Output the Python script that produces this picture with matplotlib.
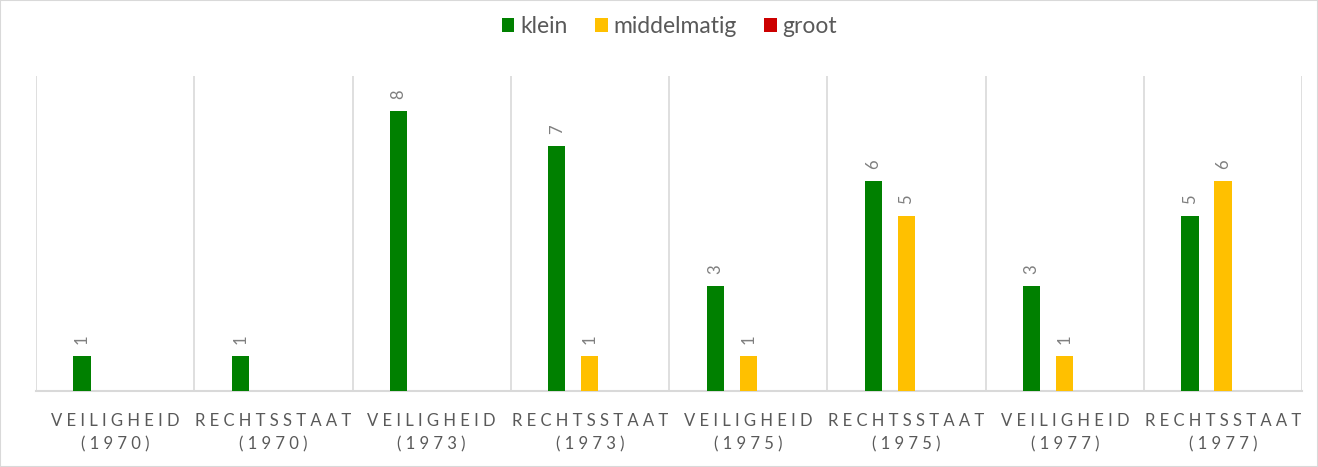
import numpy as np
import matplotlib.pyplot as plt

categories = ["VEILIGHEID\n(1970)", "RECHTSSTAAT\n(1970)", "VEILIGHEID\n(1973)", "RECHTSSTAAT\n(1973)",
              "VEILIGHEID\n(1975)", "RECHTSSTAAT\n(1975)", "VEILIGHEID\n(1977)", "RECHTSSTAAT\n(1977)"]
klein = [1, 1, 8, 7, 3, 6, 3, 5]
middelmatig = [0, 0, 0, 1, 1, 5, 1, 6]
groot = [0, 0, 0, 0, 0, 0, 0, 0]

series = [("klein", klein, "#008000"),
          ("middelmatig", middelmatig, "#FFC000"),
          ("groot", groot, "#CC0000")]

TEXT_GREY = "#595959"


def spaced(label):
    # mimic the wide letter spacing of the axis labels
    return "\n".join(" ".join(line) for line in label.split("\n"))


def main():
    plt.rcParams['font.family'] = ['Lato', 'DejaVu Sans']
    fig = plt.figure(figsize=(13.18, 4.67), dpi=100)
    ax = fig.add_axes([0.0273, 0.1627, 0.9607, 0.6746])

    x = np.arange(len(categories))
    width = 0.108
    offsets = [-0.209, 0.0, 0.209]

    handles = []
    for (name, vals, color), off in zip(series, offsets):
        bars = ax.bar(x + off, vals, width=width, color=color, label=name, zorder=3)
        handles.append(bars)
        for xi, v in zip(x + off, vals):
            if v > 0:
                ax.annotate(str(v), (xi, v), xytext=(0, 8.5), textcoords="offset points",
                            ha="center", va="bottom", rotation=90, fontsize=12,
                            color="#7f7f7f")

    ax.set_xlim(-0.5, len(categories) - 0.5)
    ax.set_ylim(0, 9)
    ax.set_yticks([])
    ax.set_xticks(x)
    ax.set_xticklabels([spaced(c) for c in categories], fontsize=12, color=TEXT_GREY,
                       linespacing=1.55)
    ax.tick_params(axis="x", length=0, pad=16)

    # vertical separators between categories
    for b in np.arange(-0.5, len(categories), 1.0):
        ax.axvline(b, color="#d9d9d9", lw=1.2, zorder=1)

    for side in ["top", "right", "left"]:
        ax.spines[side].set_visible(False)
    ax.spines["bottom"].set_color("#d9d9d9")
    ax.spines["bottom"].set_linewidth(1.5)

    fig.legend(handles=handles, loc="upper center", bbox_to_anchor=(0.508, 1.01), ncol=3,
               frameon=False, fontsize=16.5, handlelength=0.55, handleheight=0.55,
               handletextpad=0.25, columnspacing=1.2, labelcolor=TEXT_GREY)

    # outer chart border
    fig.patches.append(plt.Rectangle((0, 0), 1, 1, transform=fig.transFigure, fill=False,
                                     edgecolor="#d9d9d9", lw=1.5))

    fig.savefig("out.png", dpi=100)


if __name__ == "__main__":
    main()
